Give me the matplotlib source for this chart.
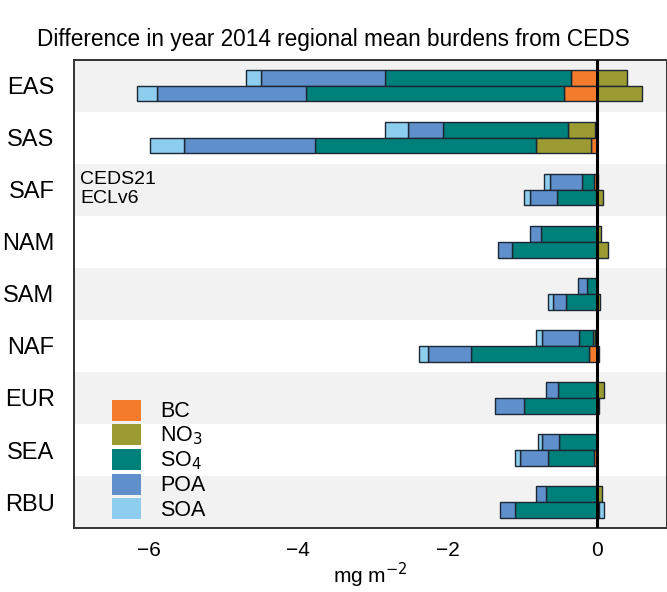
import numpy as np
import matplotlib
matplotlib.use("Agg")
import matplotlib.pyplot as plt
from matplotlib.patches import Patch

plt.rcParams['font.family'] = ['Liberation Sans', 'DejaVu Sans']

# regiones (de arriba hacia abajo)
regiones = ['EAS', 'SAS', 'SAF', 'NAM', 'SAM', 'NAF', 'EUR', 'SEA', 'RBU']
especies = ['BC', 'NO$_3$', 'SO$_4$', 'POA', 'SOA']
colores = ['#f47b2b', '#9b9a33', '#00807a', '#5f90cc', '#8dcdee']

# diferencias (mg m-2) por especie: BC, NO3, SO4, POA, SOA
ceds21 = {
    'EAS': [-0.35, 0.40, -2.48, -1.67, -0.20],
    'SAS': [-0.02, -0.36, -1.68, -0.47, -0.31],
    'SAF': [-0.04, 0.02, -0.16, -0.43, -0.08],
    'NAM': [0.00, 0.06, -0.75, -0.15, 0.00],
    'SAM': [0.00, 0.00, -0.13, -0.12, 0.00],
    'NAF': [-0.02, -0.03, -0.19, -0.50, -0.07],
    'EUR': [0.00, 0.10, -0.52, -0.16, 0.00],
    'SEA': [0.00, 0.00, -0.51, -0.22, -0.06],
    'RBU': [0.00, 0.07, -0.68, -0.14, 0.00],
}
eclv6 = {
    'EAS': [-0.44, 0.60, -3.46, -1.99, -0.27],
    'SAS': [-0.08, -0.74, -2.96, -1.75, -0.45],
    'SAF': [-0.01, 0.08, -0.52, -0.36, -0.08],
    'NAM': [0.00, 0.15, -1.13, -0.19, 0.00],
    'SAM': [0.00, 0.04, -0.41, -0.18, -0.06],
    'NAF': [-0.10, 0.03, -1.59, -0.57, -0.12],
    'EUR': [0.00, 0.03, -0.97, -0.39, 0.00],
    'SEA': [-0.04, 0.00, -0.62, -0.37, -0.07],
    'RBU': [0.00, 0.03, -1.09, -0.20, 0.07],
}

fig = plt.figure(figsize=(6.67, 5.92), dpi=100)
ax = fig.add_axes([0.111, 0.108, 0.889, 0.791])

n = len(regiones)
alto = 0.3

# franjas grises alternas
for i in range(n):
    if i % 2 == 0:
        ax.axhspan(i - 0.5, i + 0.5, color='#f2f2f2', zorder=0, lw=0)


def barras_apiladas(datos, desplazamiento):
    for i, reg in enumerate(regiones):
        y = i + desplazamiento
        neg = 0.0
        pos = 0.0
        for v, c in zip(datos[reg], colores):
            if v == 0:
                continue
            if v < 0:
                ax.barh(y, v, left=neg, height=alto, color=c,
                        edgecolor='#1c2733', linewidth=1.0, zorder=2)
                neg += v
            else:
                ax.barh(y, v, left=pos, height=alto, color=c,
                        edgecolor='#1c2733', linewidth=1.0, zorder=2)
                pos += v


barras_apiladas(ceds21, -alto / 2)
barras_apiladas(eclv6, alto / 2)

ax.axvline(0, color='black', lw=2.2, zorder=3)

ax.set_xlim(-7, 0.94)
ax.set_ylim(n - 0.5, -0.5)
ax.set_yticks(range(n))
ax.set_yticklabels(regiones, fontsize=17)
ax.set_xticks([-6, -4, -2, 0])
ax.set_xticklabels(['\u22126', '\u22124', '\u22122', '0'], fontsize=15)
ax.tick_params(axis='y', length=0, pad=14)
ax.tick_params(axis='x', length=0, pad=9)
ax.set_xlabel('mg m$^{-2}$', fontsize=15, labelpad=1)
for s in ax.spines.values():
    s.set_color('#333333')
    s.set_linewidth(1.4)

ax.text(-6.92, 1.81, 'CEDS21', fontsize=14, va='center', ha='left')
ax.text(-6.92, 2.17, 'ECLv6', fontsize=14, va='center', ha='left')

manijas = [Patch(facecolor=c, edgecolor='none') for c in colores]
ax.legend(manijas, especies, loc='lower left', bbox_to_anchor=(0.042, -0.012),
          frameon=False, fontsize=15.5, handlelength=1.35, handleheight=1.15,
          labelspacing=0.06, handletextpad=0.9, borderaxespad=0.2)

fig.suptitle('Difference in year 2014 regional mean burdens from CEDS',
             x=0.5, y=0.952, fontsize=16.3)

fig.savefig('out.png', dpi=100)
